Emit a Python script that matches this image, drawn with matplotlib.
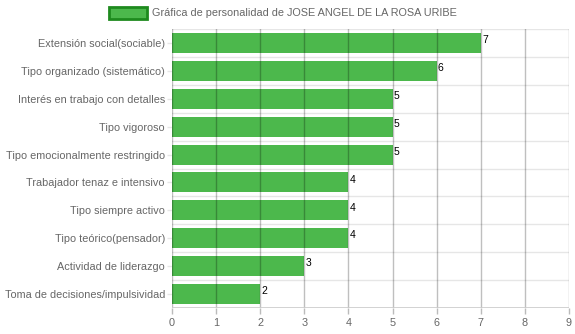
import numpy as np
import matplotlib
matplotlib.use('Agg')
from matplotlib import pyplot as plt
from matplotlib.patches import Rectangle

categories = ['Extensión social(sociable)', 'Tipo organizado (sistemático)',
              'Interés en trabajo con detalles', 'Tipo vigoroso',
              'Tipo emocionalmente restringido', 'Trabajador tenaz e intensivo',
              'Tipo siempre activo', 'Tipo teórico(pensador)',
              'Actividad de liderazgo', 'Toma de decisiones/impulsividad']
scores = [7, 6, 5, 5, 5, 4, 4, 4, 3, 2]
x_ticks = list(range(0, 10))
legend_label = 'Gráfica de personalidad de JOSE ANGEL DE LA ROSA URIBE'

bar_color = '#4cb84c'
edge_color = '#1e8a1e'
text_color = '#666666'

plt.rcParams['font.family'] = ['Liberation Sans', 'DejaVu Sans']

fig = plt.figure(figsize=(5.75, 3.34), dpi=100)
ax = fig.add_axes([172 / 575, 1 - 308 / 334, (569 - 172) / 575, (308 - 29) / 334])

y = np.arange(len(categories))
ax.barh(y, scores, height=0.72, color=bar_color, zorder=2)

# value labels at the end of each bar
for yi, v in zip(y, scores):
    ax.text(v + 0.03, yi - 0.1, str(v), fontsize=7.5,
            color='black', va='center', ha='left', zorder=4)

ax.set_xlim(0, 9)
ax.set_ylim(len(categories) - 0.5, -0.5)
ax.set_xticks(x_ticks)
ax.set_yticks(y)
ax.set_yticklabels(categories)
ax.tick_params(axis='both', labelsize=7.8, colors=text_color, width=1)
ax.tick_params(axis='x', color='#bbbbbb', length=4, pad=3)
ax.tick_params(axis='y', color='#e6e6e6', length=3.6, pad=1.5)

# grid: vertical lines over bars, category separators beneath
for xv in x_ticks:
    ax.axvline(xv, color='black', alpha=0.25, lw=1, zorder=3)
for b in np.arange(-0.5, len(categories), 1.0):
    ax.axhline(b, color='#e6e6e6', lw=1, zorder=1)
ax.axhline(len(categories) - 0.5, color='#cccccc', lw=1.2, zorder=3)

for s in ax.spines.values():
    s.set_visible(False)

# legend box and title on top
fig.patches.append(Rectangle((109 / 575, 1 - 19 / 334), 38 / 575, 12 / 334,
                             transform=fig.transFigure, facecolor=bar_color,
                             edgecolor=edge_color, lw=2))
fig.text(152 / 575, 1 - 13 / 334, legend_label, fontsize=7.8, color=text_color,
         va='center', ha='left')

fig.savefig('out.png', dpi=100)
